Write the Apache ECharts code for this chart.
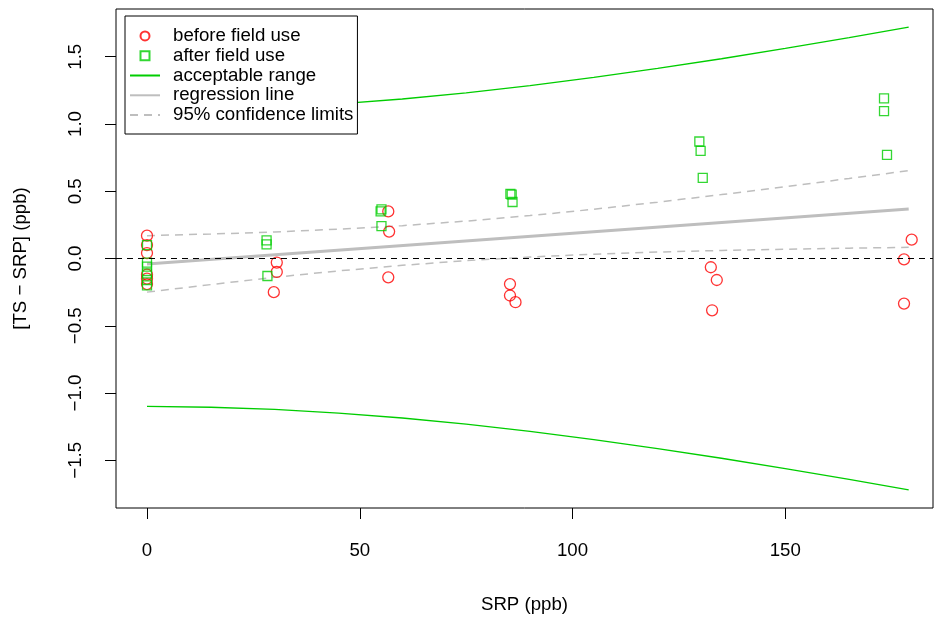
<!DOCTYPE html>
<html><head><meta charset="utf-8">
<script src="https://cdn.jsdelivr.net/npm/echarts@6/dist/echarts.min.js"></script>
<style>html,body{margin:0;padding:0;background:#fff}#c{width:935px;height:619px}</style>
</head><body><div id="c"></div>
<script>
// ---- data ----
const xTicks = [0, 50, 100, 150];
const yTicks = [-1.5, -1, -0.5, 0, 0.5, 1, 1.5];

const beforeX = [0, 0, 0, 0, 0, 0, 30.5, 30.5, 29.8, 56.7, 56.9, 56.7, 85.3, 85.3, 86.6, 132.5, 133.9, 132.8, 179.7, 177.9, 177.9];
const beforeY = [0.17, 0.10, 0.04, -0.12, -0.15, -0.19, -0.03, -0.10, -0.25, 0.35, 0.20, -0.14, -0.19, -0.275, -0.325, -0.065, -0.16, -0.385, 0.14, -0.007, -0.335];

const afterX = [0, 0, 0, 0, 0, 0, 28.1, 28.1, 28.3, 55.1, 54.9, 55.1, 85.4, 85.7, 85.9, 129.8, 130.1, 130.6, 173.2, 173.2, 173.9];
const afterY = [0.10, -0.03, -0.06, -0.11, -0.16, -0.20, 0.135, 0.105, -0.13, 0.365, 0.35, 0.24, 0.48, 0.475, 0.42, 0.87, 0.80, 0.60, 1.19, 1.095, 0.77];

const curveX   = [0, 15, 30, 45, 60, 75, 90, 105, 120, 135, 150, 165, 179];
const accUpper = [1.100, 1.106, 1.122, 1.149, 1.186, 1.232, 1.285, 1.346, 1.413, 1.485, 1.562, 1.642, 1.720];
const accLower = [-1.100, -1.106, -1.122, -1.149, -1.186, -1.232, -1.285, -1.346, -1.413, -1.485, -1.562, -1.642, -1.720];
const ciUpper  = [0.170, 0.182, 0.197, 0.218, 0.244, 0.278, 0.319, 0.366, 0.419, 0.475, 0.534, 0.595, 0.653];
const ciLower  = [-0.250, -0.194, -0.140, -0.092, -0.051, -0.016, 0.011, 0.032, 0.048, 0.060, 0.069, 0.077, 0.083];

const regX = [0, 179];
const regY = [-0.04, 0.368];

const seriesNames = ['before field use', 'after field use', 'acceptable range', 'regression line', '95% confidence limits'];

// ---- build ----
const zip = (xs, ys) => xs.map((x, i) => [x, ys[i]]);
const FONT = '"Liberation Sans", Arial, Helvetica, sans-serif';
const FS = 18.67;
const RED = '#FF0000', GREEN = '#00CD00', GRAY = '#BEBEBE';
const fmtY = v => (v < 0 ? '\u2212' : '') + Math.abs(v).toFixed(1);
const noSym = {color: 'rgba(0,0,0,0)', borderColor: 'rgba(0,0,0,0)', borderWidth: 0};

const chart = echarts.init(document.getElementById('c'), null, {renderer: 'canvas'});
chart.setOption({
  animation: false,
  backgroundColor: '#fff',
  textStyle: {fontFamily: FONT, color: '#000'},
  grid: {left: 116, right: 2, top: 9, bottom: 111, show: true, borderColor: '#000', borderWidth: 1, containLabel: false, outerBoundsMode: 'none'},
  legend: {
    orient: 'vertical', left: 125, top: 16,
    padding: [10, 4, 9, 4],
    itemWidth: 30, itemHeight: 9, itemGap: 0,
    symbolKeepAspect: true,
    backgroundColor: '#fff', borderColor: '#000', borderWidth: 1,
    z: 20,
    textStyle: {fontSize: FS, fontFamily: FONT, color: '#000', lineHeight: 19.8, padding: [0, 0, 0, 8]},
    data: [
      {name: seriesNames[0], icon: 'circle'},
      {name: seriesNames[1], icon: 'path://M0,0L10,0L10,10L0,10Z'},
      {name: seriesNames[2], itemStyle: noSym},
      {name: seriesNames[3], itemStyle: noSym},
      {name: seriesNames[4], itemStyle: noSym}
    ]
  },
  xAxis: {
    type: 'value', min: -7.285, max: 184.71,
    axisLine: {show: false, onZero: false},
    axisTick: {show: true, inside: false, length: 11, customValues: xTicks, lineStyle: {color: '#000', width: 1}},
    axisLabel: {customValues: xTicks, margin: 33, fontSize: FS, fontFamily: FONT, color: '#000'},
    splitLine: {show: false},
    name: 'SRP (ppb)', nameLocation: 'middle', nameGap: 87,
    nameTextStyle: {fontSize: FS, fontFamily: FONT, color: '#000'}
  },
  yAxis: {
    type: 'value', min: -1.855, max: 1.855,
    axisLine: {show: false, onZero: false},
    axisTick: {show: true, inside: false, length: 11, customValues: yTicks, lineStyle: {color: '#000', width: 1}},
    axisLabel: {customValues: yTicks, rotate: 90, margin: 31, fontSize: FS, fontFamily: FONT, color: '#000', formatter: fmtY},
    splitLine: {show: false},
    name: '[TS \u2212 SRP] (ppb)', nameLocation: 'middle', nameGap: 86, nameRotate: 90,
    nameTextStyle: {fontSize: FS, fontFamily: FONT, color: '#000'}
  },
  series: [
    {
      name: seriesNames[2], type: 'line', data: zip(curveX, accUpper), symbol: 'none',
      lineStyle: {color: GREEN, width: 1.3}, itemStyle: {color: GREEN}, z: 2
    },
    {
      name: seriesNames[2], type: 'line', data: zip(curveX, accLower), symbol: 'none',
      lineStyle: {color: GREEN, width: 1.3}, itemStyle: {color: GREEN}, z: 2
    },
    {
      name: seriesNames[3], type: 'line', data: zip(regX, regY), symbol: 'none',
      lineStyle: {color: GRAY, width: 3}, itemStyle: {color: GRAY}, z: 2,
      markLine: {
        silent: true, symbol: ['none', 'none'], label: {show: false},
        lineStyle: {color: '#000', type: [6, 5], width: 1},
        data: [{yAxis: 0}]
      }
    },
    {
      name: seriesNames[4], type: 'line', data: zip(curveX, ciUpper), symbol: 'none',
      lineStyle: {color: GRAY, width: 1.5, type: [8, 6]}, itemStyle: {color: GRAY}, z: 2
    },
    {
      name: seriesNames[4], type: 'line', data: zip(curveX, ciLower), symbol: 'none',
      lineStyle: {color: GRAY, width: 1.5, type: [8, 6]}, itemStyle: {color: GRAY}, z: 2
    },
    {
      name: seriesNames[0], type: 'scatter', data: zip(beforeX, beforeY),
      symbol: 'circle', symbolSize: 11, symbolKeepAspect: true,
      itemStyle: {color: 'rgba(0,0,0,0)', borderColor: RED, borderWidth: 1.3}, z: 3
    },
    {
      name: seriesNames[1], type: 'scatter', data: zip(afterX, afterY),
      symbol: 'rect', symbolSize: 9, symbolKeepAspect: true,
      itemStyle: {color: 'rgba(0,0,0,0)', borderColor: GREEN, borderWidth: 1.3}, z: 3
    }
  ]
});
</script></body></html>
